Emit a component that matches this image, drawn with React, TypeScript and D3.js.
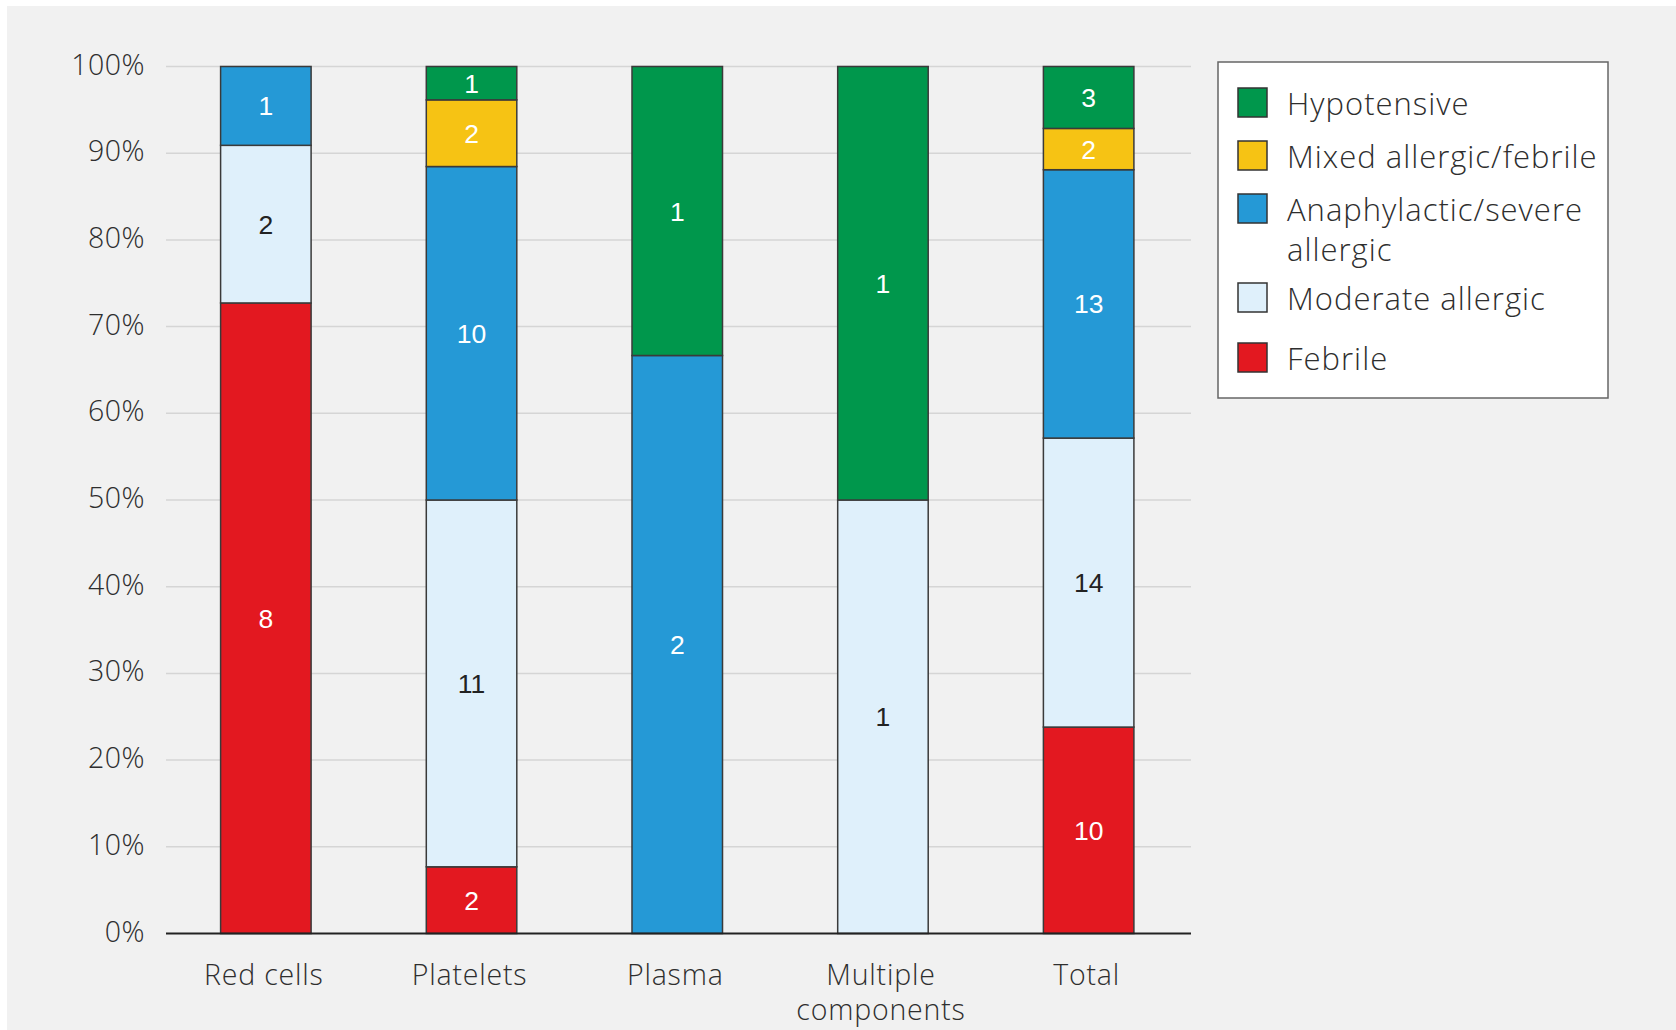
import React from "react";
import * as d3 from "d3";

const categories = ["Red cells", "Platelets", "Plasma", "Multiple components", "Total"];
const seriesKeys = ["Febrile", "Moderate allergic", "Anaphylactic/severe allergic", "Mixed allergic/febrile", "Hypotensive"];
const febrile = [8, 2, 0, 0, 10];
const moderateAllergic = [2, 11, 0, 1, 14];
const anaphylactic = [1, 10, 2, 0, 13];
const mixedAllergicFebrile = [0, 2, 0, 0, 2];
const hypotensive = [0, 1, 1, 1, 3];
const seriesColors = ["#e31820", "#dff0fb", "#2599d6", "#f6c314", "#00974c"];
const labelColors = ["#ffffff", "#222222", "#ffffff", "#ffffff", "#ffffff"];
const yTicks = [0, 0.1, 0.2, 0.3, 0.4, 0.5, 0.6, 0.7, 0.8, 0.9, 1];
const legendOrder = ["Hypotensive", "Mixed allergic/febrile", "Anaphylactic/severe allergic", "Moderate allergic", "Febrile"];
const legendLines = [["Hypotensive"], ["Mixed allergic/febrile"], ["Anaphylactic/severe", "allergic"], ["Moderate allergic"], ["Febrile"]];

const FONT = "'Open Sans', 'Liberation Sans', Arial, sans-serif";
const NUMFONT = "'Liberation Sans', Arial, sans-serif";
const TEXT = "#2e2e2e";

export default function App() {
  const W = 1676, H = 1030;
  const rows = categories.map((c, i) => ({
    category: c,
    [seriesKeys[0]]: febrile[i],
    [seriesKeys[1]]: moderateAllergic[i],
    [seriesKeys[2]]: anaphylactic[i],
    [seriesKeys[3]]: mixedAllergicFebrile[i],
    [seriesKeys[4]]: hypotensive[i],
  }));
  const stacked = d3.stack<any>().keys(seriesKeys).offset(d3.stackOffsetExpand)(rows);

  const x = d3.scaleBand<string>().domain(categories).range([163, 1191.5]).paddingInner(0.56).paddingOuter(0.28);
  const y = d3.scaleLinear().domain([0, 1]).range([933.5, 66.5]);
  const gridX0 = 166, gridX1 = 1191;
  const fmt = d3.format(".0%");

  // legend layout
  const lgX = 1218, lgY = 62, lgW = 390, lgH = 336;
  const swatchTops = [88, 141, 194, 283, 343];
  const sw = 29;

  return (
    <svg width={W} height={H} style={{ position: "absolute", left: 0, top: 0, display: "block" }} fontFamily={FONT}>
      <rect x={0} y={0} width={W} height={H} fill="#ffffff" />
      <rect x={7} y={6} width={W - 7} height={H - 6} fill="#f1f1f1" />
      {yTicks.map((t) => (
        <g key={t}>
          {t > 0 && <line x1={gridX0} x2={gridX1} y1={y(t)} y2={y(t)} stroke="#d5d5d5" strokeWidth={1.5} />}
          <text x={145} y={y(t) + 8} textAnchor="end" fontSize={28.5} fontWeight={300} letterSpacing={0.5} fill={TEXT}>{fmt(t)}</text>
        </g>
      ))}
      {stacked.map((s, si) => (
        <g key={s.key}>
          {s.map((d, ci) => {
            const v = (rows[ci] as any)[s.key] as number;
            if (!v) return null;
            const x0 = x(categories[ci])!;
            const y0 = y(d[1]), y1 = y(d[0]);
            return (
              <g key={ci}>
                <rect x={x0} y={y0} width={x.bandwidth()} height={y1 - y0} fill={seriesColors[si]} stroke="#3a3a3a" strokeWidth={1.5} />
                <text x={x0 + x.bandwidth() / 2} y={(y0 + y1) / 2 + 9.5} textAnchor="middle" fontFamily={NUMFONT} fontSize={26.5} fill={labelColors[si]}>{v}</text>
              </g>
            );
          })}
        </g>
      ))}
      <line x1={gridX0} x2={gridX1} y1={y(0)} y2={y(0)} stroke="#222" strokeWidth={2} />
      {categories.map((c) => {
        const words = c === "Multiple components" ? ["Multiple", "components"] : [c];
        return (
          <text key={c} textAnchor="middle" fontSize={28.5} fontWeight={300} letterSpacing={0.8} fill={TEXT}>
            {words.map((w, i) => (
              <tspan key={i} x={x(c)! + x.bandwidth() / 2 - 2} y={985 + i * 35}>{w}</tspan>
            ))}
          </text>
        );
      })}
      <rect x={lgX} y={lgY} width={lgW} height={lgH} fill="#ffffff" stroke="#666" strokeWidth={1.5} />
      {legendOrder.map((k, i) => {
        const si = seriesKeys.indexOf(k);
        const top = swatchTops[i];
        return (
          <g key={k}>
            <rect x={1238} y={top} width={sw} height={sw} fill={seriesColors[si]} stroke="#333" strokeWidth={1.5} />
            <text fontSize={31} fontWeight={300} letterSpacing={1} fill={TEXT}>
              {legendLines[i].map((ln, j) => (
                <tspan key={j} x={1287} y={top + sw / 2 + 12 + j * 40}>{ln}</tspan>
              ))}
            </text>
          </g>
        );
      })}
    </svg>
  );
}
